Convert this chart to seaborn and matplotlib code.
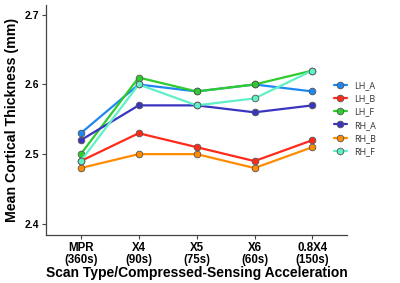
import numpy as np
import pandas as pd
import seaborn as sns
import matplotlib.pyplot as plt

sns.set_theme(style="white")
plt.rcParams['font.family'] = ['Liberation Sans', 'DejaVu Sans']

scan_labels = ["MPR\n(360s)", "X4\n(90s)", "X5\n(75s)", "X6\n(60s)", "0.8X4\n(150s)"]
groups = ["LH_A", "LH_B", "LH_F", "RH_A", "RH_B", "RH_F"]
lh_a = [2.53, 2.60, 2.59, 2.60, 2.59]
lh_b = [2.49, 2.53, 2.51, 2.49, 2.52]
lh_f = [2.50, 2.61, 2.59, 2.60, 2.62]
rh_a = [2.52, 2.57, 2.57, 2.56, 2.57]
rh_b = [2.48, 2.50, 2.50, 2.48, 2.51]
rh_f = [2.49, 2.60, 2.57, 2.58, 2.62]
colors = ["#1E88F0", "#FF2A1A", "#2ECC2E", "#3A35C0", "#FF8C00", "#60F0C8"]

rows = []
for g, vals in zip(groups, [lh_a, lh_b, lh_f, rh_a, rh_b, rh_f]):
    for i, v in enumerate(vals):
        rows.append({"scan": i, "thickness": v, "group": g})
df = pd.DataFrame(rows)

fig, ax = plt.subplots(figsize=(4, 2.83), dpi=100)
fig.subplots_adjust(left=0.115, right=0.868, top=0.982, bottom=0.17)

sns.lineplot(data=df, x="scan", y="thickness", hue="group", hue_order=groups,
             palette=colors, marker="o", markersize=4.8, markeredgecolor="#555555",
             markeredgewidth=0.6, linewidth=1.6, ax=ax)

ax.set_xlim(-0.6, 4.6)
ax.set_ylim(2.384, 2.714)
ax.set_xticks(range(len(scan_labels)))
ax.set_xticklabels(scan_labels, linespacing=1.0)
ax.set_yticks([2.4, 2.5, 2.6, 2.7])
ax.set_yticklabels(["2.4", "2.5", "2.6", "2.7"])
for lbl in ax.get_xticklabels():
    lbl.set_fontweight("bold")
    lbl.set_fontsize(8.3)
    lbl.set_color("black")
for lbl in ax.get_yticklabels():
    lbl.set_fontweight("bold")
    lbl.set_fontsize(7.5)
    lbl.set_color("black")
ax.tick_params(axis="both", length=3, width=0.8, color="#444444", pad=2,
               bottom=True, left=True)

for s in ["top", "right"]:
    ax.spines[s].set_visible(False)
for s in ["left", "bottom"]:
    ax.spines[s].set_color("#444444")
    ax.spines[s].set_linewidth(0.9)

ax.set_xlabel("Scan Type/Compressed-Sensing Acceleration", fontsize=10,
              fontweight="bold", labelpad=0, color="black")
ax.set_ylabel("Mean Cortical Thickness (mm)", fontsize=10.2, fontweight="bold",
              labelpad=4, color="black")

leg = ax.legend(loc="center left", bbox_to_anchor=(0.955, 0.506), frameon=False,
                fontsize=6.5, handlelength=1.5, labelspacing=0.45,
                handletextpad=0.8, borderaxespad=0, borderpad=0, title=None)
for t in leg.get_texts():
    t.set_color("#333333")
    t.set_family(["Open Sans", "DejaVu Sans"])

fig.savefig("out.png", dpi=100)
